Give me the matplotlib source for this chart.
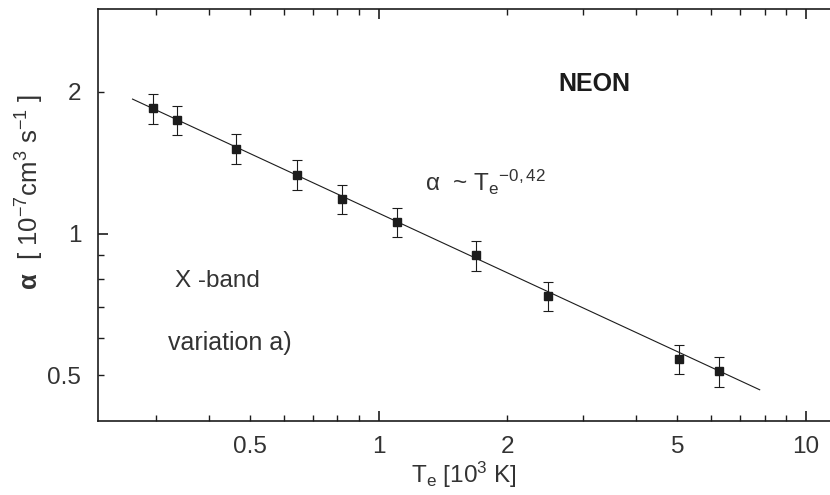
import matplotlib
matplotlib.use("Agg")
import matplotlib.pyplot as plt
from matplotlib.ticker import FixedLocator, FuncFormatter

# --- data ---
te = [0.296, 0.336, 0.462, 0.644, 0.820, 1.105, 1.687, 2.487, 5.04, 6.24]
alpha = [1.845, 1.742, 1.516, 1.335, 1.185, 1.058, 0.899, 0.737, 0.542, 0.510]
alpha_err = [0.133, 0.125, 0.109, 0.096, 0.085, 0.076, 0.065, 0.053, 0.039, 0.037]

# power-law fit alpha ~ Te^-0.42, drawn between its two end points
fit_te = [0.265, 7.79]
fit_alpha = [1.931, 0.466]

x_labeled = [0.5, 1, 2, 5, 10]
y_labeled = [0.5, 1, 2]

plt.rcParams["font.family"] = ["Liberation Sans", "DejaVu Sans"]
plt.rcParams["mathtext.fontset"] = "custom"
plt.rcParams["mathtext.rm"] = "Liberation Sans"
plt.rcParams["mathtext.it"] = "Liberation Sans"
plt.rcParams["mathtext.bf"] = "Liberation Sans:bold"

TXT = "#333333"
INK = "#1c1c1c"

fig = plt.figure(figsize=(8.3, 4.95), dpi=100)
ax = fig.add_axes([98 / 830, 1 - 421 / 495, 732 / 830, 412 / 495])

ax.set_xscale("log")
ax.set_yscale("log")
ax.set_xlim(0.22, 11.38)
ax.set_ylim(0.4, 3.0)

ax.plot(fit_te, fit_alpha, color=INK, lw=0.8)
ax.errorbar(te, alpha, yerr=alpha_err, fmt="s", color=INK, ms=6.3,
            ecolor=INK, elinewidth=0.8, capsize=3.5, capthick=0.8)

# ticks: long ones at decades, short ones elsewhere, labels at 0.5/1/2/5/10
ax.xaxis.set_major_locator(FixedLocator([1, 10]))
ax.xaxis.set_minor_locator(FixedLocator([0.3, 0.4, 0.5, 0.6, 0.7, 0.8, 0.9,
                                         2, 3, 4, 5, 6, 7, 8, 9]))
ax.yaxis.set_major_locator(FixedLocator([1]))
ax.yaxis.set_minor_locator(FixedLocator([0.5, 0.6, 0.7, 0.8, 0.9, 2]))


def fmt_x(v, pos):
    return f"{v:g}" if any(abs(v - t) < 1e-9 for t in x_labeled) else ""


def fmt_y(v, pos):
    return f"{v:g}" if any(abs(v - t) < 1e-9 for t in y_labeled) else ""


ax.xaxis.set_major_formatter(FuncFormatter(fmt_x))
ax.xaxis.set_minor_formatter(FuncFormatter(fmt_x))
ax.yaxis.set_major_formatter(FuncFormatter(fmt_y))
ax.yaxis.set_minor_formatter(FuncFormatter(fmt_y))

ax.tick_params(axis="x", which="both", direction="in", top=True, bottom=True,
               labelsize=17.5, labelcolor=TXT, pad=11, color=INK)
ax.tick_params(axis="y", which="both", direction="in", left=True, right=False,
               labelsize=17.5, labelcolor=TXT, pad=12, color=INK)
ax.tick_params(which="major", length=7, width=1.2)
ax.tick_params(which="minor", length=4.5, width=1.0)

ax.spines["right"].set_visible(False)
for s in ["left", "top", "bottom"]:
    ax.spines[s].set_linewidth(1.2)
    ax.spines[s].set_color(INK)

ax.set_xlabel(r"T$_\mathrm{e}$ [10$^\mathrm{3}$ K]", fontsize=17.5, color=TXT,
              labelpad=1)
fig.text(30 / 830, 1 - 192 / 495,
         r"$\mathbf{\alpha}$  [ 10$^\mathrm{-7}$cm$^\mathrm{3}$ s$^\mathrm{-1}$ ]",
         rotation=90, ha="center", va="center", fontsize=18.5, color=TXT)

ax.text(0.678, 0.819, "NEON", transform=ax.transAxes, ha="center",
        va="center", fontsize=18, fontweight="bold", color=INK)
ax.text(0.447, 0.559, r"$\alpha$  ~ T$_\mathrm{e}$$^\mathrm{-0,42}$",
        transform=ax.transAxes, ha="left", va="baseline", fontsize=17.5,
        color=TXT)
ax.text(0.105, 0.326, "X -band", transform=ax.transAxes, ha="left",
        va="baseline", fontsize=17.5, color=TXT)
ax.text(0.0956, 0.172, "variation a)", transform=ax.transAxes, ha="left",
        va="baseline", fontsize=18, color=TXT)

fig.savefig("out.png", dpi=100)
